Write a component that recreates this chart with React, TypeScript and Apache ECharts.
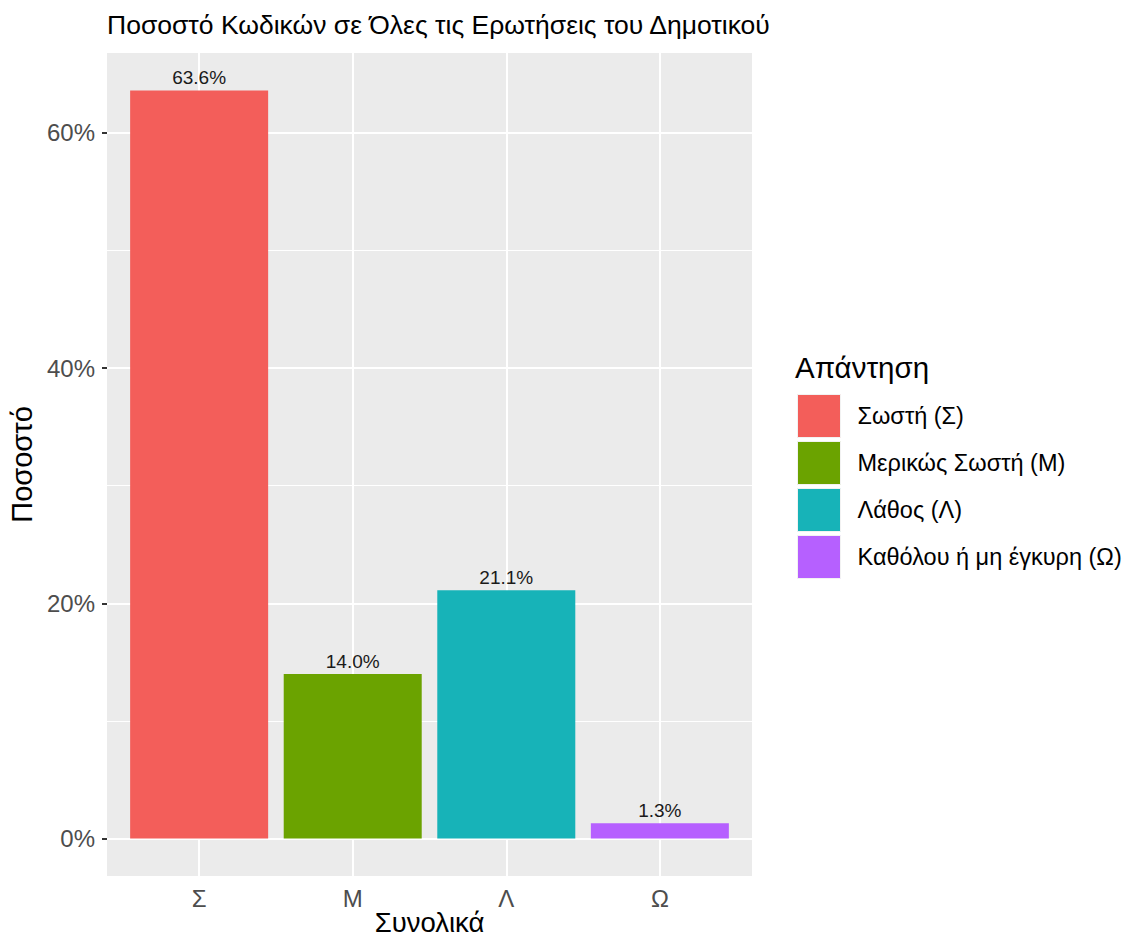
import React, { useEffect, useRef } from "react";
import * as echarts from "echarts";

const categories = ["Σ", "Μ", "Λ", "Ω"];
const seriesNames = ["Σωστή (Σ)", "Μερικώς Σωστή (Μ)", "Λάθος (Λ)", "Καθόλου ή μη έγκυρη (Ω)"];
const values = [63.6, 14.0, 21.1, 1.3];
const colors = ["#F35E5A", "#6BA300", "#17B3B8", "#B660FF"];
const yTicks = [0, 20, 40, 60];
const yMinor = [10, 30, 50];
const xPositions = [1, 2, 3, 4];

const FONT = "Liberation Sans, Arial, Helvetica, sans-serif";

export default function App() {
  const ref = useRef<HTMLDivElement>(null);
  useEffect(() => {
    if (!ref.current) return;
    const chart = echarts.init(ref.current, null, { renderer: "svg" });
    const barSeries = seriesNames.map((name, i) => ({
      name,
      type: "bar",
      stack: "all",
      z: 3,
      barWidth: 138,
      data: [[xPositions[i], values[i]]],
      itemStyle: { color: colors[i] },
      label: {
        show: true,
        position: "top",
        distance: 3,
        fontSize: 19,
        fontFamily: FONT,
        color: "#1A1A1A",
        formatter: (p: any) => p.value[1].toFixed(1) + "%",
      },
    }));
    const gridLines = {
      name: "grid",
      type: "line",
      z: 1,
      data: [],
      silent: true,
      markLine: {
        z: 1,
        silent: true,
        symbol: "none",
        label: { show: false },
        animation: false,
        data: [
          ...yTicks.map((v) => ({ yAxis: v, lineStyle: { color: "#FFFFFF", width: 2, type: "solid" } })),
          ...yMinor.map((v) => ({ yAxis: v, lineStyle: { color: "#FFFFFF", width: 1, type: "solid" } })),
          ...xPositions.map((v) => ({ xAxis: v, lineStyle: { color: "#FFFFFF", width: 2, type: "solid" } })),
        ],
      },
    };
    chart.setOption({
      animation: false,
      textStyle: { fontFamily: FONT },
      title: [
        {
          text: "Ποσοστό Κωδικών σε Όλες τις Ερωτήσεις του Δημοτικού",
          left: 102,
          top: 6,
          textStyle: { fontSize: 26.5, fontWeight: "normal", color: "#000", fontFamily: FONT },
        },
        {
          text: "Απάντηση",
          left: 790,
          top: 347,
          textStyle: { fontSize: 29.5, fontWeight: "normal", color: "#000", fontFamily: FONT },
        },
      ],
      legend: {
        data: seriesNames,
        orient: "vertical",
        left: 797,
        top: 394,
        padding: 0,
        itemWidth: 43,
        itemHeight: 43,
        itemGap: 3,
        icon: "rect",
        itemStyle: { borderColor: "#F2F2F2", borderWidth: 1 },
        textStyle: { fontSize: 23.5, color: "#000", fontFamily: FONT, padding: [0, 0, 0, 12] },
        selectedMode: false,
      },
      grid: {
        left: 107,
        top: 53,
        width: 645,
        height: 823,
        show: true,
        backgroundColor: "#EBEBEB",
        borderWidth: 0,
        containLabel: false,
        outerBoundsMode: "none",
      },
      xAxis: {
        type: "value",
        min: 0.4,
        max: 4.6,
        name: "Συνολικά",
        nameLocation: "middle",
        nameMoveOverlap: false,
        nameGap: 32,
        nameTextStyle: { fontSize: 27.5, lineHeight: 28, color: "#000", fontFamily: FONT },
        axisLine: { show: false },
        splitLine: { show: false },
        axisTick: { show: true, customValues: xPositions, length: 5, lineStyle: { color: "#333333", width: 2 } },
        axisLabel: {
          customValues: xPositions,
          margin: 10,
          fontSize: 24,
          color: "#4D4D4D",
          fontFamily: FONT,
          formatter: (v: number) => categories[Math.round(v) - 1] ?? "",
        },
      },
      yAxis: {
        type: "value",
        min: -3.18,
        max: 66.78,
        name: "Ποσοστό",
        nameLocation: "middle",
        nameGap: 68,
        nameRotate: 90,
        nameTextStyle: { fontSize: 29, color: "#000", fontFamily: FONT },
        axisLine: { show: false },
        splitLine: { show: false },
        axisTick: { show: true, customValues: yTicks, length: 5, lineStyle: { color: "#333333", width: 2 } },
        axisLabel: {
          customValues: yTicks,
          margin: 12,
          fontSize: 24,
          color: "#4D4D4D",
          fontFamily: FONT,
          formatter: (v: number) => Math.round(v) + "%",
        },
      },
      series: [gridLines, ...barSeries],
    });
    return () => chart.dispose();
  }, []);
  return <div ref={ref} style={{ position: "absolute", left: 0, top: 0, width: 1125, height: 941 }} />;
}
